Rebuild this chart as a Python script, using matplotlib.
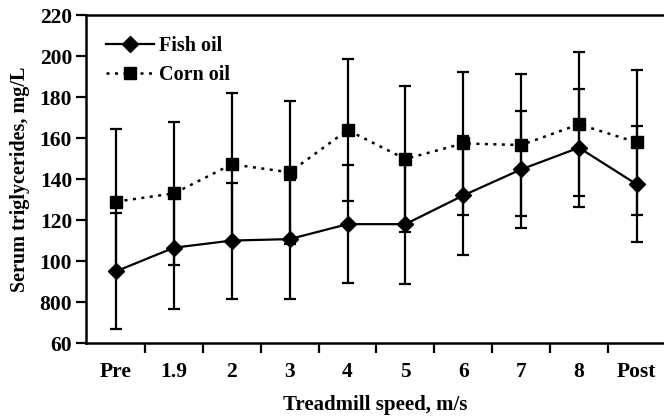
import matplotlib
matplotlib.use("Agg")
import matplotlib.pyplot as plt
import numpy as np

categories = ["Pre", "1.9", "2", "3", "4", "5", "6", "7", "8", "Post"]
fish_mean = [95, 106.5, 110, 110.7, 118, 118, 132, 144.7, 155.3, 137.4]
fish_err_lo = [28.4, 30.0, 28.3, 29.0, 28.8, 29.0, 29.2, 28.5, 28.7, 28.3]
fish_err_hi = [28.4, 26.5, 28.3, 29.0, 28.8, 29.0, 29.2, 28.5, 28.7, 28.3]
corn_mean = [129, 133, 147.2, 143.3, 163.9, 149.8, 157.4, 156.6, 166.7, 157.9]
corn_err_lo = [34.0, 35.0, 37.2, 35.0, 34.7, 35.5, 35.0, 34.7, 35.1, 35.4]
corn_err_hi = [35.4, 35.0, 34.6, 35.0, 34.7, 35.5, 35.0, 34.7, 35.1, 35.4]
ytick_vals = [60, 80, 100, 120, 140, 160, 180, 200, 220]
ytick_labels = ["60", "800", "100", "120", "140", "160", "180", "200", "220"]

plt.rcParams["font.family"] = ["Liberation Serif", "DejaVu Serif"]
plt.rcParams["font.weight"] = "bold"

fig = plt.figure(figsize=(6.64, 4.20), dpi=100)
ax = fig.add_axes([0.1295, 0.1833, 0.8705, 0.7807])

x = np.arange(len(categories))

ax.errorbar(x, fish_mean, yerr=[fish_err_lo, fish_err_hi], fmt="none", ecolor="black",
            elinewidth=1.6, capsize=4.2, capthick=1.6, zorder=2)
ax.errorbar(x, corn_mean, yerr=[corn_err_lo, corn_err_hi], fmt="none", ecolor="black",
            elinewidth=1.6, capsize=4.2, capthick=1.6, zorder=2)

ax.plot(x, fish_mean, color="black", lw=1.6, ls="-", marker="D", ms=8.5,
        label="Fish oil", zorder=4)
ax.plot(x, corn_mean, color="black", lw=1.8, ls=(0, (1.2, 2.2)), marker="s", ms=8,
        label="Corn oil", zorder=4)

ax.set_xlim(-0.52, 9.47)
ax.set_ylim(60, 220)
ax.set_yticks(ytick_vals)
ax.set_yticklabels(ytick_labels)
ax.set_xticks(x)
ax.set_xticklabels(categories)
ax.set_xticks(np.arange(0.5, 9.0, 1.0), minor=True)

ax.tick_params(axis="x", which="major", length=0, pad=14, labelsize=15.5)
ax.tick_params(axis="x", which="minor", length=7, width=1.6, direction="out")
ax.tick_params(axis="y", which="major", length=7, width=1.6, direction="out",
               pad=3, labelsize=15.5)
for lab in ax.get_xticklabels() + ax.get_yticklabels():
    lab.set_fontweight("bold")

ax.spines["right"].set_visible(False)
for s in ["left", "bottom", "top"]:
    ax.spines[s].set_linewidth(1.8)

ax.set_xlabel("Treadmill speed, m/s", fontsize=15, fontweight="bold", labelpad=9)
ax.set_ylabel("Serum triglycerides, mg/L", fontsize=14.5, fontweight="bold", labelpad=7)

leg = ax.legend(loc="upper left", frameon=False, fontsize=14.5, handlelength=2.4,
                handletextpad=0.25, labelspacing=0.45, borderaxespad=0.3,
                bbox_to_anchor=(0.01, 0.98))
for t in leg.get_texts():
    t.set_fontweight("bold")

fig.savefig("out.png", dpi=100)
